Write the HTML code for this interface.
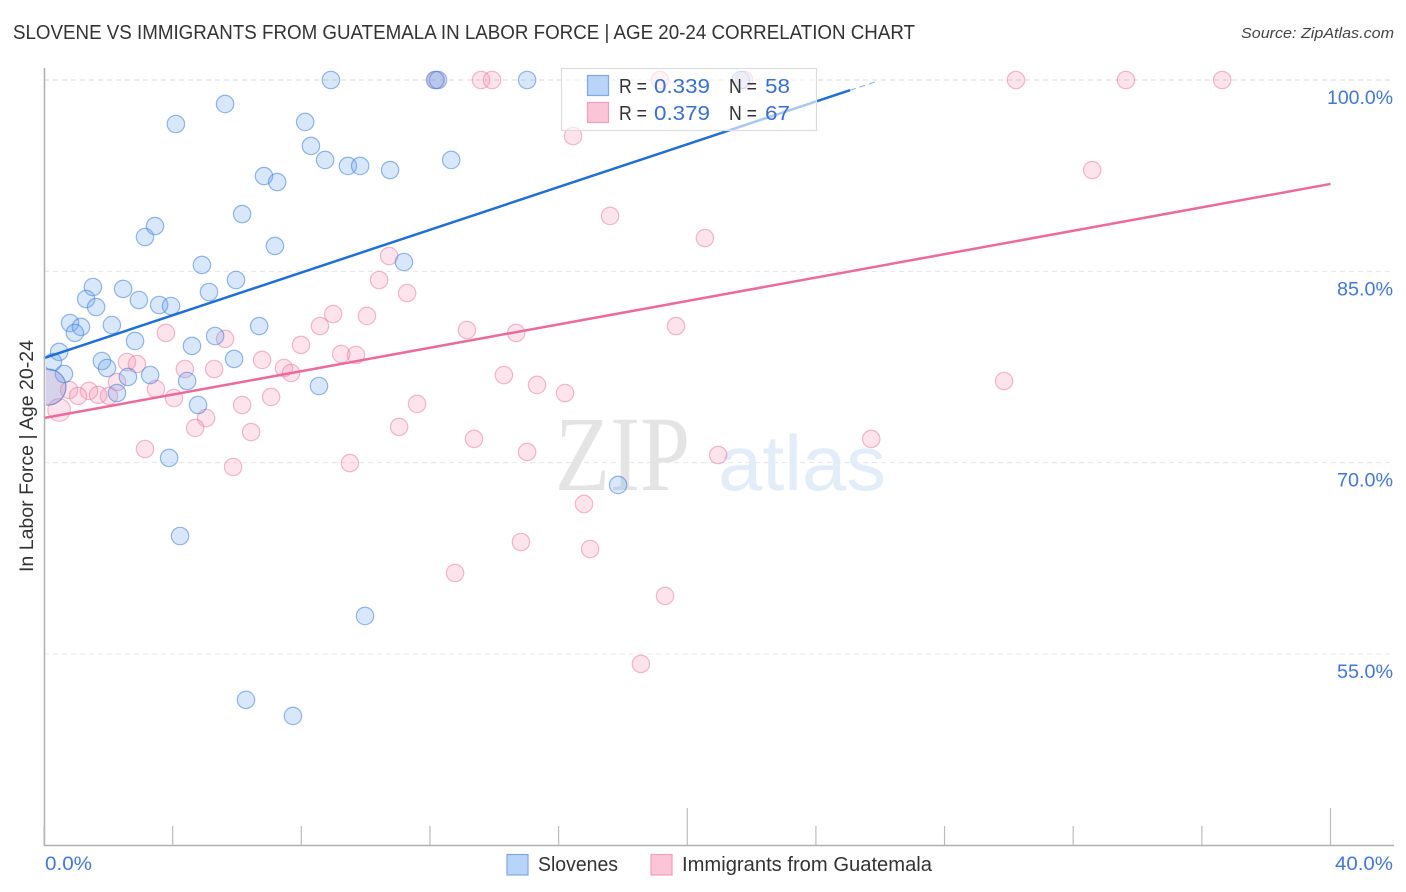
<!DOCTYPE html>
<html lang="en">
<head>
<meta charset="utf-8">
<title>Slovene vs Immigrants from Guatemala correlation chart</title>
<style>
html,body{margin:0;padding:0;background:#fff;width:1406px;height:892px;overflow:hidden}
svg{display:block;font-family:"Liberation Sans",sans-serif}
</style>
</head>
<body>
<svg id="chart" width="1406" height="892" viewBox="0 0 1406 892" xmlns="http://www.w3.org/2000/svg">
  <defs><clipPath id="plot-clip"><rect x="46" y="60" width="1348" height="785"/></clipPath></defs>
  <text x="13" y="39" font-size="20" fill="#333" textLength="902" lengthAdjust="spacingAndGlyphs">SLOVENE VS IMMIGRANTS FROM GUATEMALA IN LABOR FORCE | AGE 20-24 CORRELATION CHART</text>
  <text x="1394" y="38" font-size="15" font-style="italic" fill="#444" text-anchor="end" textLength="153" lengthAdjust="spacingAndGlyphs">Source: ZipAtlas.com</text>
  <g id="grid"></g>
  <text x="555" y="490" font-family="'Liberation Serif',serif" font-size="107" fill="#e4e4e4" textLength="135" lengthAdjust="spacingAndGlyphs">ZIP</text>
  <text x="718" y="490" font-size="78" fill="#e3edf9" textLength="168" lengthAdjust="spacingAndGlyphs">atlas</text>
  <g id="points" clip-path="url(#plot-clip)"></g>
  <g id="trends"></g>
  <g id="axes"></g>
  <text transform="translate(33,456) rotate(-90)" font-size="19" fill="#333" text-anchor="middle" textLength="232" lengthAdjust="spacingAndGlyphs">In Labor Force | Age 20-24</text>

  <g>
    <rect x="561.5" y="68.5" width="255" height="62" fill="#fff" fill-opacity="0.62" stroke="#dcdcdc" stroke-width="1.2"/>
    <rect x="587.5" y="75.5" width="21" height="20" fill="#b8d4f8" stroke="#7fa9e0" stroke-width="1.2"/>
    <rect x="587.5" y="102.5" width="21" height="20" fill="#fcc5d7" stroke="#f0a0bb" stroke-width="1.2"/>
    <g font-size="20" fill="#333">
      <text x="619" y="93" textLength="28" lengthAdjust="spacingAndGlyphs">R =</text>
      <text x="654" y="93" fill="#3a6fcf" textLength="56" lengthAdjust="spacingAndGlyphs">0.339</text>
      <text x="729" y="93" textLength="28" lengthAdjust="spacingAndGlyphs">N =</text>
      <text x="765" y="93" fill="#3a6fcf" textLength="25" lengthAdjust="spacingAndGlyphs">58</text>
      <text x="619" y="120" textLength="28" lengthAdjust="spacingAndGlyphs">R =</text>
      <text x="654" y="120" fill="#3a6fcf" textLength="56" lengthAdjust="spacingAndGlyphs">0.379</text>
      <text x="729" y="120" textLength="28" lengthAdjust="spacingAndGlyphs">N =</text>
      <text x="765" y="120" fill="#3a6fcf" textLength="25" lengthAdjust="spacingAndGlyphs">67</text>
    </g>
  </g>

  <g>
    <rect x="507" y="854.5" width="21" height="20.5" fill="#b8d4f8" stroke="#7fa9e0" stroke-width="1.2"/>
    <text x="538" y="871" font-size="20" fill="#333" textLength="80" lengthAdjust="spacingAndGlyphs">Slovenes</text>
    <rect x="651" y="854.5" width="21" height="20.5" fill="#fcc5d7" stroke="#f0a0bb" stroke-width="1.2"/>
    <text x="682" y="871" font-size="20" fill="#333" textLength="250" lengthAdjust="spacingAndGlyphs">Immigrants from Guatemala</text>
  </g>
</svg>
<script>
const yTicks = [100, 85, 70, 55];
const yTickLabels = ["100.0%", "85.0%", "70.0%", "55.0%"];
const xTicks = [0, 4, 8, 12, 16, 20, 24, 28, 32, 36, 40];
const xMajorTicks = [20, 40];
const xEdgeValues = [0, 40];
const xEdgeLabels = ["0.0%", "40.0%"];

const slovenesX = [8.92,12.16,12.25,15.02,21.67,5.63,4.10,8.12,8.30,8.74,9.45,9.83,10.76,12.66,6.84,7.25,6.16,3.45,3.14,7.18,4.91,11.19,5.97,1.52,2.46,1.31,2.95,5.13,3.58,3.95,1.62,6.69,0.81,1.15,2.11,0.96,5.32,2.83,4.60,0.47,0.28,1.80,1.96,5.91,0.62,3.30,2.61,4.45,8.55,2.27,4.79,3.89,17.85,4.23,9.98,6.28,7.74,0.12];
const slovenesY = [100,100,100,100,100,98.12,96.55,96.71,94.83,93.73,93.26,93.26,92.94,93.73,92.47,92.0,89.49,88.55,87.69,86.99,85.5,85.73,84.32,83.77,83.62,82.83,82.75,83.38,82.36,82.28,82.2,80.71,80.95,80.64,80.79,80.17,79.93,79.54,79.15,78.68,77.89,77.97,77.42,78.13,76.95,76.87,76.72,76.4,76.01,75.46,74.52,70.37,68.25,64.25,57.98,51.4,50.14,75.93];
const slovenesWeight = [1,1,1,1,1,1,1,1,1,1,1,1,1,1,1,1,1,1,1,1,1,1,1,1,1,1,1,1,1,1,1,1,1,1,1,1,1,1,1,1,1,1,1,1,1,1,1,1,1,1,1,1,1,1,1,1,1,4.3];

const guatemalaX = [12.19,13.59,13.93,19.15,21.77,30.22,33.64,36.63,16.45,32.59,17.6,20.55,10.73,10.42,11.29,8.99,10.04,8.58,13.15,14.68,19.65,3.79,5.63,7.99,9.24,9.7,6.78,2.58,2.89,4.38,5.29,7.46,7.68,14.3,15.33,16.2,29.85,2.27,0.78,1.4,3.48,1.06,1.68,2.02,4.04,7.06,6.16,11.6,5.04,4.7,11.04,6.44,13.37,15.02,20.96,25.72,3.14,9.51,5.88,16.79,14.83,16.98,12.78,19.31,18.56,0.47,0.12];
const guatemalaY = [100,100,100,100,100,100,100,100,95.61,92.94,89.34,87.61,86.2,84.32,83.3,81.65,81.5,80.71,80.4,80.17,80.71,80.17,79.7,79.23,78.52,78.44,78.05,77.89,77.73,77.34,77.34,77.42,77.03,76.87,76.09,75.46,76.4,76.32,75.7,75.62,75.78,75.23,75.31,75.23,75.07,75.15,74.52,74.6,73.5,72.72,72.8,72.4,71.86,70.84,70.6,71.86,71.07,69.97,69.66,66.76,63.78,63.23,61.35,59.55,54.22,74.13,75.93];
const guatemalaWeight = [1,1,1,1,1,1,1,1,1,1,1,1,1,1,1,1,1,1,1,1,1,1,1,1,1,1,1,1,1,1,1,1,1,1,1,1,1,1,1,1,1,1,1,1,1,1,1,1,1,1,1,1,1,1,1,1,1,1,1,1,1,1,1,1,1,1.7,4.3];

const slovenesTrendX = [0, 25.06];
const slovenesTrendY = [78.2, 99.2];
const slovenesTrendTailX = [25.06, 25.85];
const slovenesTrendTailY = [99.2, 99.85];
const guatemalaTrendX = [0, 40];
const guatemalaTrendY = [73.5, 91.85];

const NS = "http://www.w3.org/2000/svg";
const sx = v => 44 + (v / 40) * 1286.5;
const sy = v => 80 + (100 - v) * (191.33 / 15);
const sr = w => 8.7 * Math.sqrt(w);

function make(tag, attrs, parent) {
  const el = document.createElementNS(NS, tag);
  for (const k in attrs) el.setAttribute(k, attrs[k]);
  parent.appendChild(el);
  return el;
}

const grid = document.getElementById("grid");
const axes = document.getElementById("axes");
const pts = document.getElementById("points");
const trends = document.getElementById("trends");

yTicks.forEach((t, i) => {
  const line = make("line", {x1: 44, x2: 1394, y1: sy(t), y2: sy(t), stroke: i === 0 ? "#d8d8d8" : "#e8e8e8", "stroke-width": 1, "stroke-dasharray": "5 4"}, grid);
  
  
  const label = make("text", {x: 1393, y: sy(t) + 24, "font-size": 19, fill: "#4477d4", "text-anchor": "end", textLength: yTickLabels[i].length === 6 ? 66 : 56, lengthAdjust: "spacingAndGlyphs"}, axes);
  label.textContent = yTickLabels[i];
  
  
});

const yAxisLine = make("line", {x1: 44.5, x2: 44.5, y1: 68, y2: 846, stroke: "#b0b0b0", "stroke-width": 1.5}, axes);


const xAxisLine = make("line", {x1: 44, x2: 1394, y1: 845.5, y2: 845.5, stroke: "#b0b0b0", "stroke-width": 1.5}, axes);



xTicks.forEach(t => {
  const top = xMajorTicks.includes(t) ? 808 : 826;
  const tick = make("line", {x1: sx(t), x2: sx(t), y1: top, y2: 845, stroke: "#bcbcbc", "stroke-width": 1.2}, axes);
  
  
});

xEdgeValues.forEach((t, i) => {
  const label = make("text", i === 0
    ? {x: sx(t) + 1, y: 870, "font-size": 19, fill: "#4477d4", textLength: 47, lengthAdjust: "spacingAndGlyphs"}
    : {x: 1393, y: 870, "font-size": 19, fill: "#4477d4", "text-anchor": "end", textLength: 58, lengthAdjust: "spacingAndGlyphs"}, axes);
  label.textContent = xEdgeLabels[i];
  
  
});

guatemalaX.forEach((v, i) => {
  const c = make("circle", {cx: sx(v), cy: sy(guatemalaY[i]), r: sr(guatemalaWeight[i]), fill: "#f78fb0", "fill-opacity": 0.25, stroke: "#e8789f", "stroke-opacity": 0.5, "stroke-width": 1.2}, pts);
  
  
});
slovenesX.forEach((v, i) => {
  const c = make("circle", {cx: sx(v), cy: sy(slovenesY[i]), r: sr(slovenesWeight[i]), fill: "#6fa5ee", "fill-opacity": 0.27, stroke: "#3f7fdb", "stroke-opacity": 0.55, "stroke-width": 1.2}, pts);
  
  
});

const blueLine = make("line", {x1: sx(slovenesTrendX[0]), y1: sy(slovenesTrendY[0]), x2: sx(slovenesTrendX[1]), y2: sy(slovenesTrendY[1]), stroke: "#1f6fd8", "stroke-width": 2.5}, trends);


const blueTail = make("line", {x1: sx(slovenesTrendTailX[0]), y1: sy(slovenesTrendTailY[0]), x2: sx(slovenesTrendTailX[1]), y2: sy(slovenesTrendTailY[1]), stroke: "#1f6fd8", "stroke-width": 1, "stroke-dasharray": "6 4", "stroke-opacity": 0.55}, trends);


const pinkLine = make("line", {x1: sx(guatemalaTrendX[0]), y1: sy(guatemalaTrendY[0]), x2: sx(guatemalaTrendX[1]), y2: sy(guatemalaTrendY[1]), stroke: "#ec6a9a", "stroke-width": 2.5}, trends);


</script>
</body>
</html>
